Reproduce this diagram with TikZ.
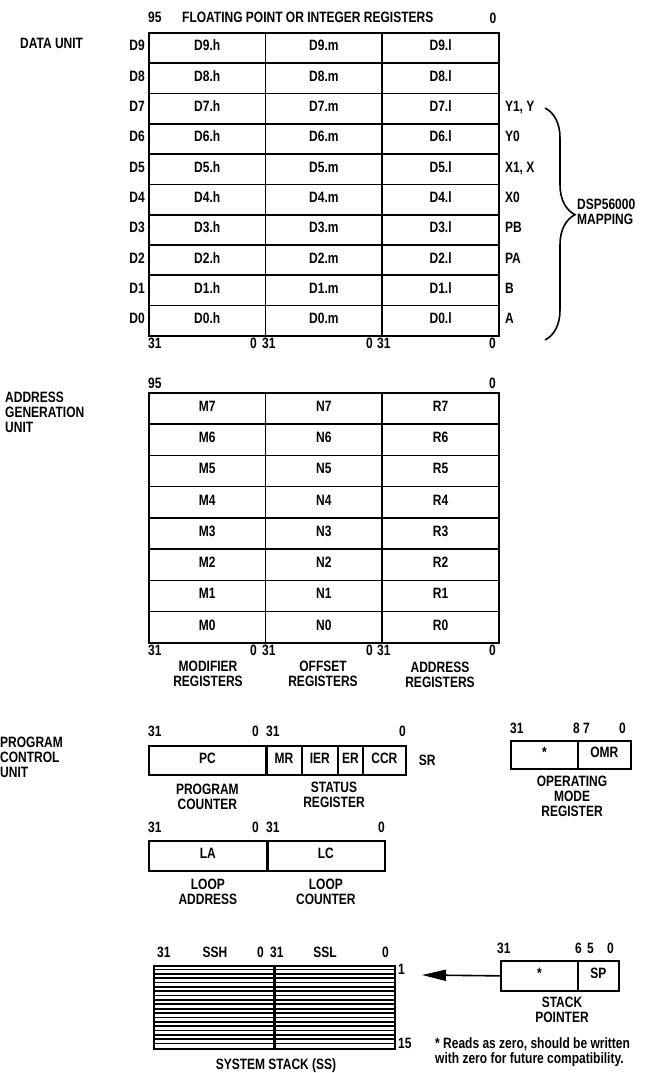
\documentclass[tikz,border=0pt]{standalone}
\usepackage{fontspec}
\newfontfamily\regfont[FakeStretch=0.8]{Liberation Sans}
\usepackage{tikz}
\usetikzlibrary{arrows.meta,positioning,decorations.pathreplacing}

\begin{document}
\begin{tikzpicture}[x=1pt, y=-1pt,
  every node/.style={font=\regfont\bfseries\fontsize{15}{15}\selectfont, inner sep=0pt},
  tag/.style={text height=11pt, text depth=0pt},
  rowtag/.style={text height=11pt, text depth=5pt},
  cell/.style={draw, line width=1.7pt, anchor=north west, text height=11pt, text depth=5pt},
  dcell/.style={cell, minimum width=116.7pt, minimum height=30.3pt},
  acell/.style={cell, minimum width=116.7pt, minimum height=31.25pt},
  note/.style={align=center, anchor=north},
  seam/.style={line width=3.2pt}]
  \useasboundingbox[fill=white] (0,0) rectangle (647,1073);
  % Data unit
  \node[tag, anchor=west] (n95a) at (148,17) {95};
  \node[tag, anchor=west] (title) at (182,17) {FLOATING POINT OR INTEGER REGISTERS};
  \node[tag] (n0a) at (493,18) {0};
  \node[tag, anchor=west] (dunit) at (20,43) {DATA UNIT};
  \foreach \i in {9,...,0} {
    \pgfmathsetmacro\rtop{32+(9-\i)*30.3}
    \node[dcell] (dh\i) at (148,\rtop) {D\i.h};
    \node[dcell] (dm\i) at (264.7,\rtop) {D\i.m};
    \node[dcell] (dl\i) at (381.4,\rtop) {D\i.l};
    \node[rowtag, left=3pt of dh\i] (dn\i) {D\i};
  }
  \foreach \i/\m in {7/{Y1, Y}, 6/Y0, 5/{X1, X}, 4/X0, 3/PB, 2/PA, 1/B, 0/A}
    \node[rowtag, right=5pt of dl\i] (map\i) {\m};
  \foreach \x/\t/\a [count=\k] in {148/31/west, 257/0/east, 262/31/west, 373/0/east, 377/31/west, 496/0/east}
    \node[tag, anchor=\a] (dbit\k) at (\x,343) {\t};
  % DSP56000 mapping
  \draw[line width=1.6pt, decorate, decoration={brace, amplitude=30pt, aspect=0.46}]
    (545,108) -- (545,340);
  \node[anchor=north west, align=left] (dsp) at (577,199) {DSP56000\\MAPPING};

  % Address generation unit
  \node[tag, anchor=west] (n95b) at (148,383) {95};
  \node[tag, anchor=east] (n0b) at (496,383) {0};
  \node[anchor=north west, align=left] (agu) at (5,392) {ADDRESS\\GENERATION\\UNIT};
  \foreach \i in {7,...,0} {
    \pgfmathsetmacro\rtop{392+(7-\i)*31.25}
    \node[acell] (m\i) at (148,\rtop) {M\i};
    \node[acell] (n\i) at (264.7,\rtop) {N\i};
    \node[acell] (r\i) at (381.4,\rtop) {R\i};
  }
  \foreach \x/\t/\a [count=\k] in {148/31/west, 257/0/east, 262/31/west, 373/0/east, 377/31/west, 496/0/east}
    \node[tag, anchor=\a] (abit\k) at (\x,650) {\t};
  \node[note] (modreg) at (208,661) {MODIFIER\\REGISTERS};
  \node[note] (offreg) at (323,661) {OFFSET\\REGISTERS};
  \node[note] (adrreg) at (440,662) {ADDRESS\\REGISTERS};

  % Program control unit
  \node[anchor=north west, align=left] (pcu) at (0,737) {PROGRAM\\CONTROL\\UNIT};
  \foreach \x/\t/\a [count=\k] in {148/31/west, 259/0/east, 266/31/west, 406/0/east}
    \node[tag, anchor=\a] (pbit\k) at (\x,731) {\t};
  \node[cell, minimum width=117pt, minimum height=29pt] (pc) at (148,745) {PC};
  \node[cell, minimum width=36pt, minimum height=29pt] (mr) at (265,745) {MR};
  \node[cell, minimum width=36pt, minimum height=29pt] (ier) at (301,745) {IER};
  \node[cell, minimum width=25pt, minimum height=29pt] (er) at (337,745) {ER};
  \node[cell, minimum width=43pt, minimum height=29pt] (ccr) at (362,745) {CCR};
  \draw[seam] (pc.north east) -- (pc.south east);
  \node[tag, right=12pt of ccr] (sr) {SR};
  \node[note, below=8pt of pc] (pcl) {PROGRAM\\COUNTER};
  \node[note] (srl) at (334,782) {STATUS\\REGISTER};

  % Operating mode register
  \foreach \x/\t/\a [count=\k] in {510/31/west, 580/8/east, 583/7/west, 626/0/east}
    \node[tag, anchor=\a] (obit\k) at (\x,728) {\t};
  \node[cell, minimum width=67pt, minimum height=28pt] (omrx) at (510,740) {*};
  \node[cell, minimum width=53pt, minimum height=28pt] (omr) at (577,740) {OMR};
  \node[note] (omrl) at (572,776) {OPERATING\\MODE\\REGISTER};

  % Loop registers
  \foreach \x/\t/\a [count=\k] in {148/31/west, 259/0/east, 266/31/west, 385/0/east}
    \node[tag, anchor=\a] (lbit\k) at (\x,827) {\t};
  \node[cell, minimum width=118pt, minimum height=30pt] (la) at (148,840) {LA};
  \node[cell, minimum width=118pt, minimum height=30pt] (lc) at (266,840) {LC};
  \draw[seam] (la.north east) -- (la.south east);
  \node[note, below=7pt of la] (lal) {LOOP\\ADDRESS};
  \node[note, below=7pt of lc] (lcl) {LOOP\\COUNTER};

  % System stack
  \foreach \x/\t/\a [count=\k] in {157/31/west, 215/SSH/center, 264/0/east, 270/31/west, 325/SSL/center, 389/0/east}
    \node[tag, anchor=\a] (sbit\k) at (\x,952) {\t};
  \node[draw, line width=1.7pt, anchor=north west, minimum width=120pt, minimum height=83pt] (ssh) at (153,965) {};
  \node[draw, line width=1.7pt, anchor=north west, minimum width=121pt, minimum height=83pt] (ssl) at (273,965) {};
  \foreach \k in {1,...,18} {
    \pgfmathsetmacro\ly{965+\k*83/19}
    \draw[line width=1.7pt] (153,\ly) -- (394,\ly);
  }
  \draw[seam] (ssh.north east) -- (ssh.south east);
  \node[tag, anchor=west] (top1) at (398,969) {1};
  \node[tag, anchor=west] (bot15) at (398,1043) {15};
  \node[tag] (sslbl) at (276,1064) {SYSTEM STACK (SS)};

  % Stack pointer
  \foreach \x/\t/\a [count=\k] in {497/31/west, 582/6/east, 587/5/west, 614/0/east}
    \node[tag, anchor=\a] (spbit\k) at (\x,948) {\t};
  \node[cell, minimum width=77pt, minimum height=30pt] (spx) at (500,960) {*};
  \node[cell, minimum width=41pt, minimum height=30pt] (sp) at (577,960) {SP};
  \node[note] (spl) at (562,997) {STACK\\POINTER};
  \coordinate (sstop) at (422,975);
  \draw[line width=1.6pt, -{Triangle[length=24pt, width=11pt]}] (spx.west) -- (sstop);
  \node[anchor=north west, align=left] (fnote) at (435,1037) {* Reads as zero, should be written\\with zero for future compatibility.};
\end{tikzpicture}
\end{document}
